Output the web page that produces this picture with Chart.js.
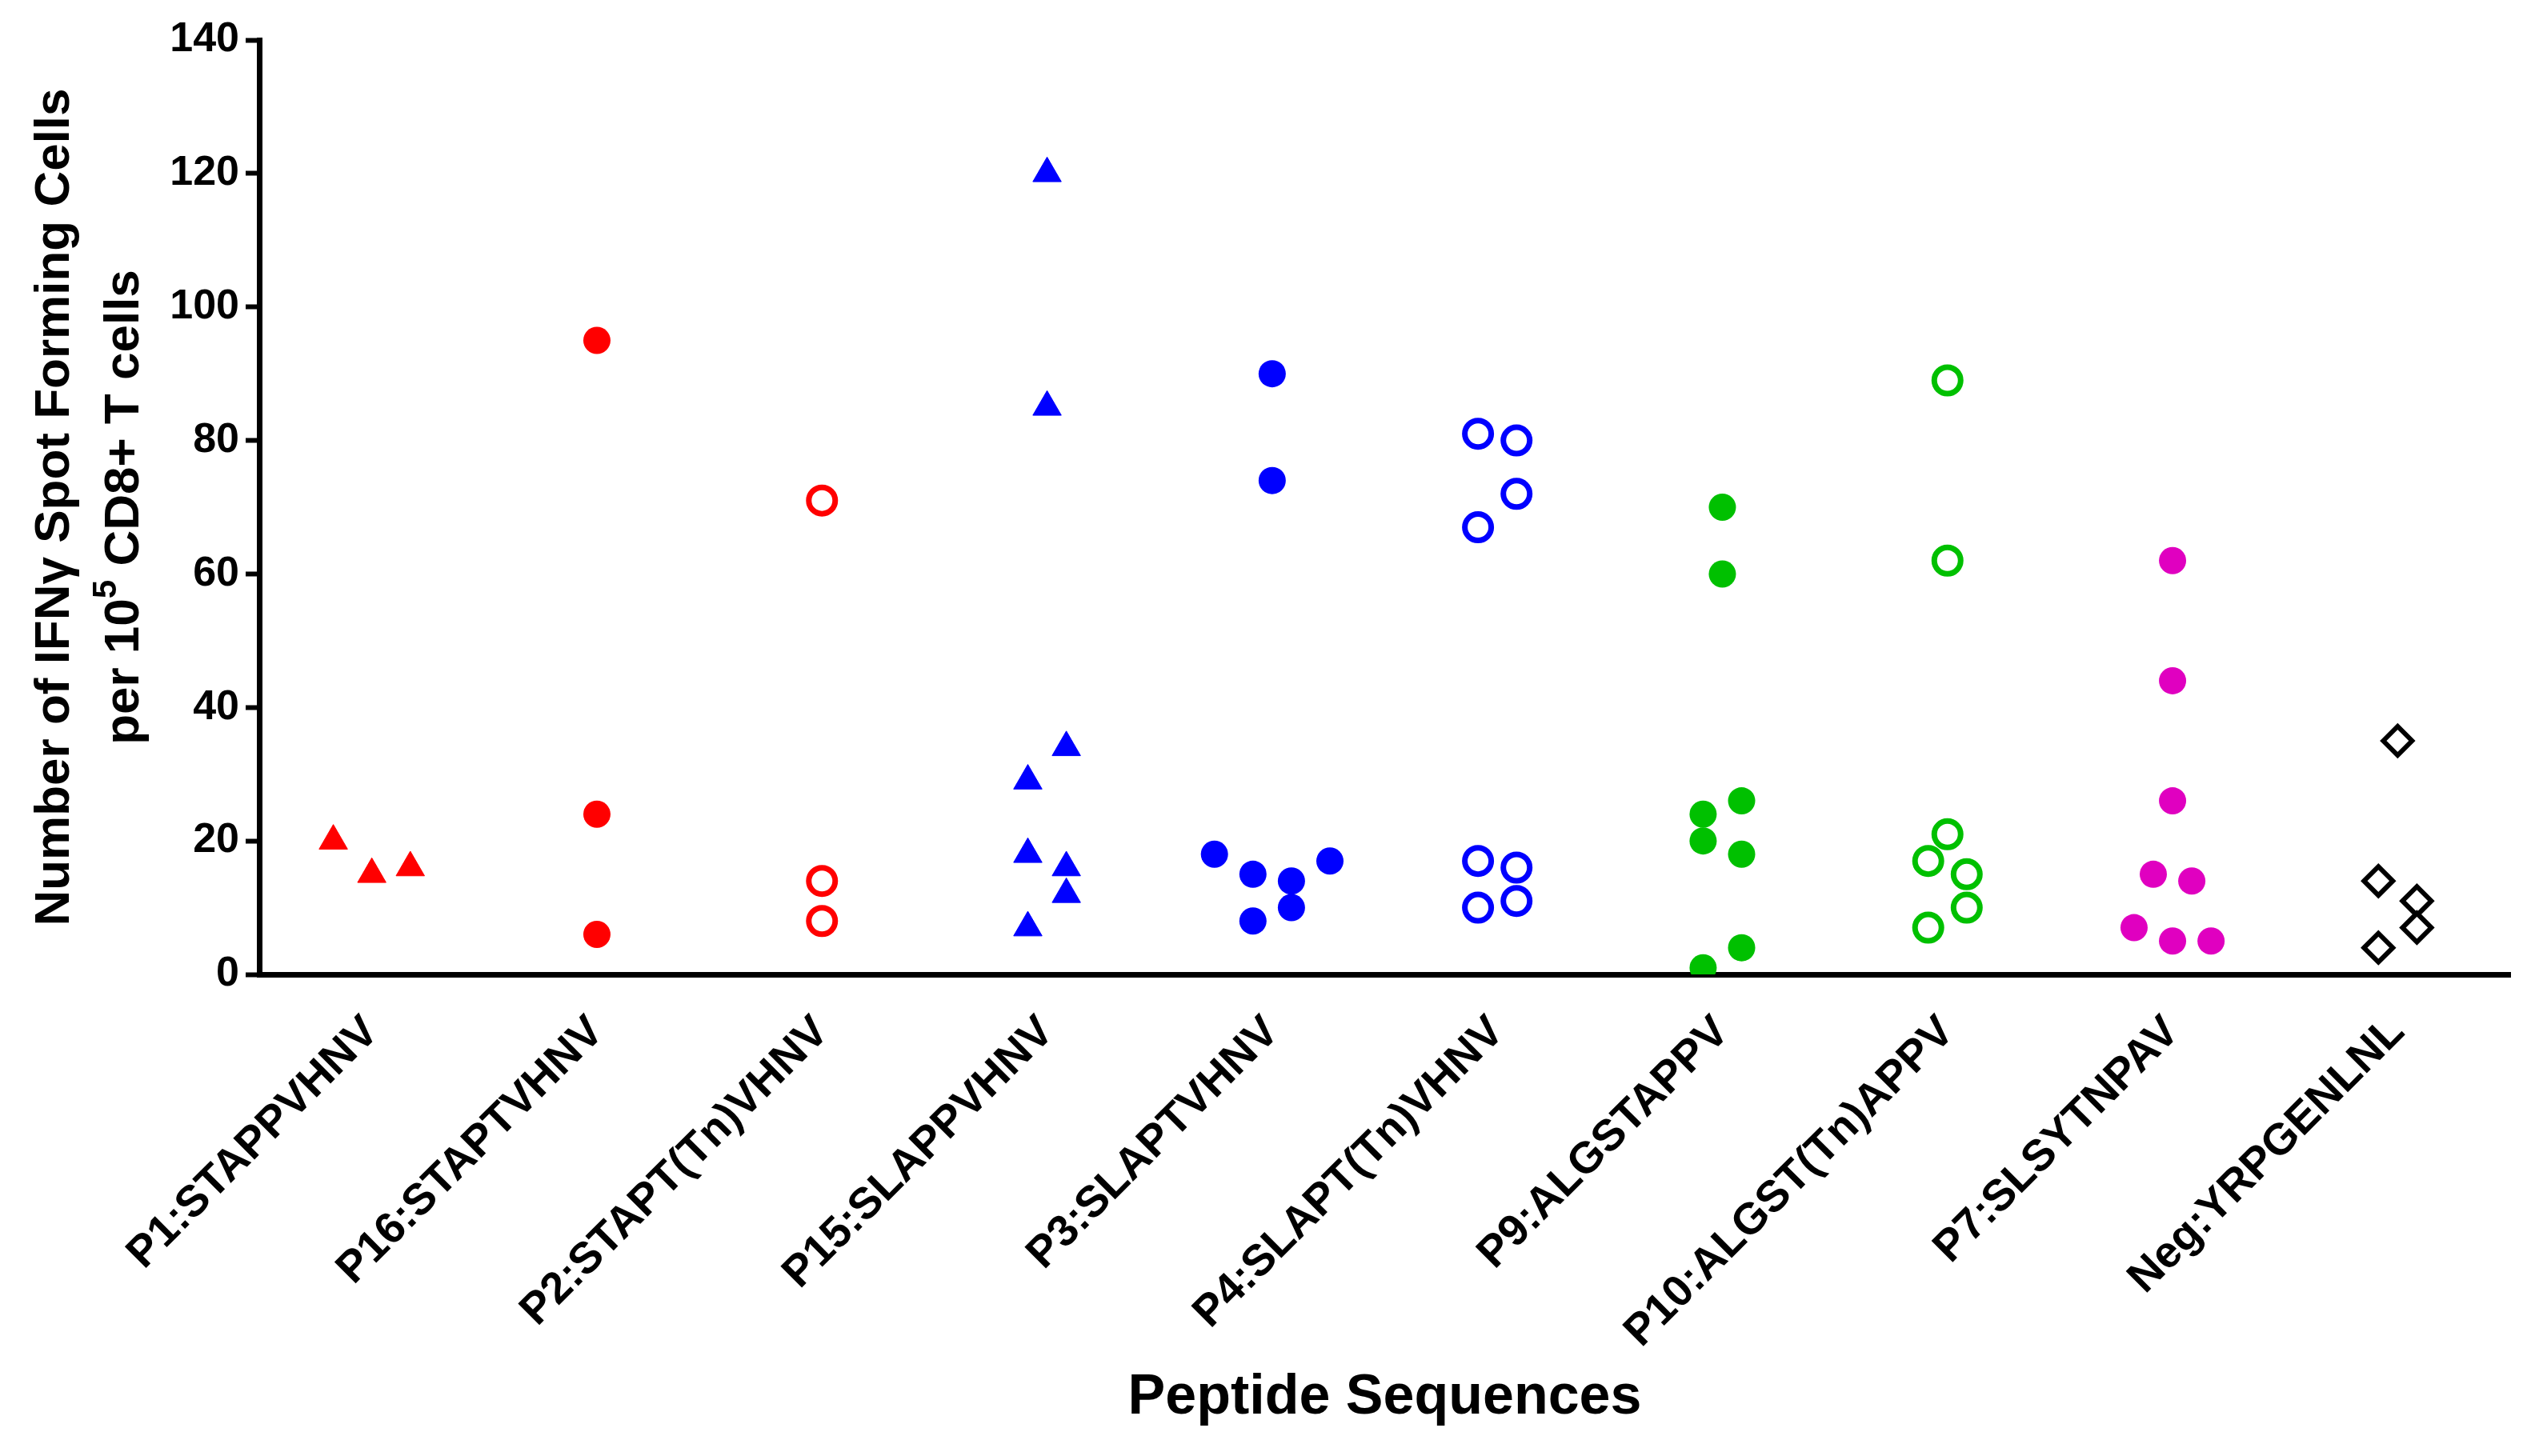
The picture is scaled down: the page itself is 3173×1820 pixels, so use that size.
<!DOCTYPE html>
<html>
<head>
<meta charset="utf-8">
<script src="https://cdn.jsdelivr.net/npm/chart.js@4.4.1/dist/chart.umd.min.js"></script>
<style>
  html, body { margin: 0; padding: 0; background: #fff; }
  #wrap { width: 3173px; height: 1820px; }
</style>
</head>
<body>
<div id="wrap"><canvas id="myChart"></canvas></div>
<script>
const categories = ['P1:STAPPVHNV', 'P16:STAPTVHNV', 'P2:STAPT(Tn)VHNV', 'P15:SLAPPVHNV', 'P3:SLAPTVHNV',
                    'P4:SLAPT(Tn)VHNV', 'P9:ALGSTAPPV', 'P10:ALGST(Tn)APPV', 'P7:SLSYTNPAV', 'Neg:YRPGENLNL'];

// spot forming cells per 10^5 CD8+ T cells, one array per peptide
const p1  = [20, 15, 16];
const p16 = [95, 24, 6];
const p2  = [71, 14, 8];
const p15 = [120, 85, 29, 34, 18, 16, 7, 12];
const p3  = [90, 74, 18, 15, 14, 17, 8, 10];
const p4  = [81, 80, 67, 72, 17, 16, 10, 11];
const p9  = [70, 60, 24, 26, 20, 18, 1, 4];
const p10 = [89, 62, 21, 17, 15, 7, 10];
const p7  = [62, 44, 26, 15, 14, 7, 5, 5];
const neg = [35, 14, 11, 4, 7];

const yTicks = [0, 20, 40, 60, 80, 100, 120, 140];

const RED = '#ff0000', BLUE = '#0000ff', GREEN = '#00c000', MAGENTA = '#e000c0', BLACK = '#000000';
const FONT = '"Liberation Sans", Arial, sans-serif';

// scatter columns: points that would overlap sit side by side in a row
const rowGap = 5.5;
const step = 0.171;
function spread(values) {
    const order = values.map((v, i) => i).sort((a, b) => values[a] - values[b]);
    const offs = new Array(values.length).fill(0);
    let row = [];
    const flush = () => {
        row.sort((a, b) => a - b);
        row.forEach((idx, k) => { offs[idx] = (k - (row.length - 1) / 2) * step; });
        row = [];
    };
    order.forEach(i => {
        if (row.length && values[i] - values[row[0]] > rowGap) flush();
        row.push(i);
    });
    flush();
    return offs;
}

function column(values, col, color, style, open) {
    const offs = spread(values);
    let radius = open ? 16.5 : 17;
    let border = open ? 7 : 0;
    if (style === 'triangle') { radius = 20.5; border = 1; }
    if (style === 'rectRot') { radius = 18; border = 6; }
    return {
        label: categories[col],
        data: values.map((v, i) => ({ x: col + offs[i], y: v })),
        pointStyle: style,
        pointRadius: radius,
        pointHoverRadius: radius,
        backgroundColor: open ? '#ffffff' : color,
        borderColor: color,
        borderWidth: border,
        showLine: false,
    };
}

// y axis title drawn by hand so that the exponent in 10^5 keeps its size
const yTitlePlugin = {
    id: 'yTitle',
    afterDraw(chart) {
        const ctx = chart.ctx;
        const area = chart.chartArea;
        const midY = (area.top + area.bottom) / 2;
        const drawLine = (parts, baseX) => {
            let total = 0;
            parts.forEach(p => {
                ctx.font = 'bold ' + p.size + 'px ' + FONT;
                p.w = ctx.measureText(p.text).width;
                total += p.w;
            });
            ctx.save();
            ctx.translate(baseX, midY);
            ctx.rotate(-Math.PI / 2);
            ctx.fillStyle = '#000';
            ctx.textBaseline = 'alphabetic';
            ctx.textAlign = 'left';
            let x = -total / 2;
            parts.forEach(p => {
                ctx.font = 'bold ' + p.size + 'px ' + FONT;
                ctx.fillText(p.text, x, -(p.rise || 0));
                x += p.w;
            });
            ctx.restore();
        };
        drawLine([{ text: 'Number of IFNγ Spot Forming Cells', size: 62 }], area.left - 238);
        drawLine([
            { text: 'per 10', size: 62 },
            { text: '5', size: 42, rise: 28 },
            { text: ' CD8+ T cells', size: 62 },
        ], area.left - 151);
    }
};

Chart.defaults.font.family = FONT;
Chart.defaults.color = '#000';

const config = {
    type: 'scatter',
    data: {
        datasets: [
            column(p1, 0, RED, 'triangle', false),
            column(p16, 1, RED, 'circle', false),
            column(p2, 2, RED, 'circle', true),
            column(p15, 3, BLUE, 'triangle', false),
            column(p3, 4, BLUE, 'circle', false),
            column(p4, 5, BLUE, 'circle', true),
            column(p9, 6, GREEN, 'circle', false),
            column(p10, 7, GREEN, 'circle', true),
            column(p7, 8, MAGENTA, 'circle', false),
            column(neg, 9, BLACK, 'rectRot', true),
        ]
    },
    options: {
        responsive: true,
        maintainAspectRatio: false,
        animation: false,
        layout: { padding: { top: 50, right: 36, bottom: 30, left: 0 } },
        plugins: { legend: { display: false }, tooltip: { enabled: false } },
        scales: {
            x: {
                type: 'linear',
                min: -0.5,
                max: categories.length - 0.5,
                afterBuildTicks: axis => { axis.ticks = categories.map((c, i) => ({ value: i })); },
                afterFit: scale => { scale.height = 1820 - 30 - 1218; },
                grid: { display: false },
                border: { display: true, color: '#000', width: 7 },
                ticks: {
                    autoSkip: false,
                    maxRotation: 45,
                    minRotation: 45,
                    padding: 32,
                    font: { size: 55, weight: 'bold' },
                    callback: v => categories[v] || '',
                },
                title: {
                    display: true,
                    text: 'Peptide Sequences',
                    font: { size: 70, weight: 'bold', lineHeight: 1.2 },
                    padding: { top: 0, bottom: 0 },
                },
            },
            y: {
                min: 0,
                max: 140,
                afterBuildTicks: axis => { axis.ticks = yTicks.map(v => ({ value: v })); },
                afterFit: scale => { scale.width = 324; },
                grid: { drawOnChartArea: false, drawTicks: true, tickLength: 17, tickWidth: 6, tickColor: '#000', color: '#000' },
                border: { display: true, color: '#000', width: 7 },
                ticks: { padding: 8, font: { size: 52, weight: 'bold' } },
            },
        },
    },
    plugins: [yTitlePlugin],
};

const chart = new Chart(document.getElementById('myChart').getContext('2d'), config);
</script>
</body>
</html>
